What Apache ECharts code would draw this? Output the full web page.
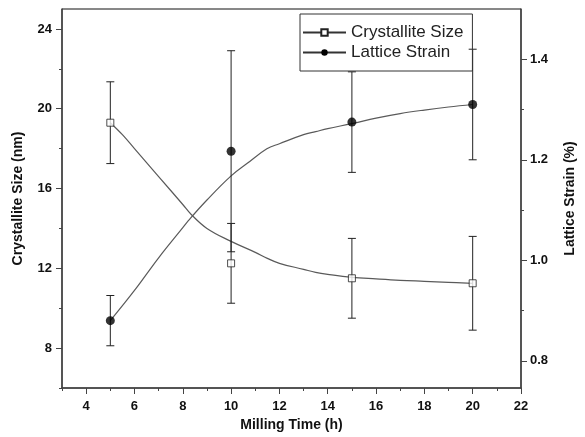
<!DOCTYPE html>
<html><head><meta charset="utf-8">
<script src="https://cdn.jsdelivr.net/npm/echarts@6/dist/echarts.min.js"></script>
<style>html,body{margin:0;padding:0;background:#fff}#c{width:585px;height:437px}</style>
</head><body><div id="c"></div>
<script>
// measured points
const millingTime = [5, 10, 15, 20];
const crystalliteSize = [19.3, 12.25, 11.5, 11.25];
const crystalliteErr = [2.05, 2.0, 2.0, 2.35];
const latticeStrain = [0.88, 1.217, 1.275, 1.31];
const strainErr = [0.05, 0.2, 0.1, 0.11];
// fitted curves
const cryCurveX = [5, 5.5, 6, 7, 8, 8.35, 9, 10, 11, 11.5, 12, 13, 13.5, 14, 15, 16, 17, 18, 19, 20];
const cryCurveY = [19.3, 18.7, 18.0, 16.6, 15.2, 14.7, 14.0, 13.35, 12.8, 12.5, 12.25, 11.95, 11.8, 11.7, 11.55, 11.47, 11.4, 11.35, 11.3, 11.25];
const strCurveX = [5, 6, 7, 8, 8.23, 9, 10, 10.67, 11.48, 12, 13, 13.5, 14, 15, 16, 17, 18, 19, 20];
const strCurveY = [0.88, 0.94, 1.005, 1.065, 1.079, 1.12, 1.168, 1.193, 1.222, 1.232, 1.25, 1.256, 1.262, 1.272, 1.283, 1.292, 1.299, 1.305, 1.31];
// axis ticks
const xLabels = [4, 6, 8, 10, 12, 14, 16, 18, 20, 22];
const xMinor = [3, 5, 7, 9, 11, 13, 15, 17, 19, 21];
const leftLabels = [8, 12, 16, 20, 24];
const leftMinor = [6, 10, 14, 18, 22];
const rightLabels = [0.8, 1.0, 1.2, 1.4];
const rightMinor = [0.9, 1.1, 1.3];

const FONT = 'Liberation Sans';
const axisCol = '#444';
const curveCol = '#5a5a5a';

function pairs(xs, ys) { return xs.map((x, i) => [x, ys[i]]); }
function errData(xs, ys, es) { return xs.map((x, i) => [x, ys[i] - es[i], ys[i] + es[i]]); }

function errRender(params, api) {
  const x = api.value(0);
  const lo = api.coord([x, api.value(1)]);
  const hi = api.coord([x, api.value(2)]);
  const w = 4;
  const st = { stroke: '#222', lineWidth: 1 };
  return { type: 'group', children: [
    { type: 'line', shape: { x1: lo[0], y1: lo[1], x2: hi[0], y2: hi[1] }, style: st },
    { type: 'line', shape: { x1: hi[0] - w, y1: hi[1], x2: hi[0] + w, y2: hi[1] }, style: st },
    { type: 'line', shape: { x1: lo[0] - w, y1: lo[1], x2: lo[0] + w, y2: lo[1] }, style: st }
  ]};
}

const chart = echarts.init(document.getElementById('c'), null, { renderer: 'canvas' });
const baseLabel = { fontFamily: FONT, fontWeight: 'bold', fontSize: 13, color: '#111' };
chart.setOption({
  animation: false,
  backgroundColor: '#fff',
  grid: { left: 62, right: 56, top: 9, bottom: 49, show: true, borderColor: '#111', borderWidth: 1 },
  legend: {
    left: 300, top: 14, orient: 'vertical', itemGap: 3,
    padding: [10, 9, 10, 2],
    borderColor: '#333', borderWidth: 1,
    itemWidth: 43, itemHeight: 8,
    textStyle: { fontFamily: FONT, fontSize: 17, color: '#222' },
    data: ['Crystallite Size', 'Lattice Strain']
  },
  xAxis: [
    { type: 'value', min: 3, max: 22,
      name: 'Milling Time (h)', nameLocation: 'middle', nameGap: 30,
      nameTextStyle: { fontFamily: FONT, fontWeight: 'bold', fontSize: 14, color: '#111' },
      axisLine: { lineStyle: { color: axisCol, width: 1.5 } },
      axisTick: { customValues: xLabels, length: 6, lineStyle: { color: axisCol } },
      axisLabel: { customValues: xLabels, margin: 12, ...baseLabel },
      splitLine: { show: false } },
    { type: 'value', min: 3, max: 22, position: 'bottom',
      axisLine: { show: false },
      axisTick: { customValues: xMinor, length: 3, lineStyle: { color: axisCol } },
      axisLabel: { show: false }, splitLine: { show: false } }
  ],
  yAxis: [
    { type: 'value', min: 6, max: 25, position: 'left',
      name: 'Crystallite Size (nm)', nameLocation: 'middle', nameGap: 37, nameRotate: 90,
      nameTextStyle: { fontFamily: FONT, fontWeight: 'bold', fontSize: 14, color: '#111' },
      axisLine: { show: true, lineStyle: { color: axisCol, width: 1.5 } },
      axisTick: { show: true, customValues: leftLabels, length: 6, lineStyle: { color: axisCol } },
      axisLabel: { customValues: leftLabels, margin: 10, ...baseLabel },
      splitLine: { show: false } },
    { type: 'value', min: 0.746, max: 1.5, position: 'right',
      name: 'Lattice Strain (%)', nameLocation: 'middle', nameGap: 42, nameRotate: 90,
      nameTextStyle: { fontFamily: FONT, fontWeight: 'bold', fontSize: 14, color: '#111' },
      axisLine: { show: true, lineStyle: { color: axisCol, width: 1.5 } },
      axisTick: { show: true, customValues: rightLabels, length: 6, lineStyle: { color: axisCol } },
      axisLabel: { customValues: rightLabels, margin: 9, formatter: v => v.toFixed(1), ...baseLabel },
      splitLine: { show: false } },
    { type: 'value', min: 6, max: 25, position: 'left',
      axisLine: { show: false },
      axisTick: { show: true, customValues: leftMinor, length: 3, lineStyle: { color: axisCol } },
      axisLabel: { show: false }, splitLine: { show: false } },
    { type: 'value', min: 0.746, max: 1.5, position: 'right',
      axisLine: { show: false },
      axisTick: { show: true, customValues: rightMinor, length: 3, lineStyle: { color: axisCol } },
      axisLabel: { show: false }, splitLine: { show: false } }
  ],
  series: [
    { name: 'cryCurve', type: 'line', smooth: 0.4, yAxisIndex: 0, showSymbol: false, silent: true,
      data: pairs(cryCurveX, cryCurveY), lineStyle: { color: curveCol, width: 1.2 }, z: 2 },
    { name: 'strCurve', type: 'line', smooth: 0.4, yAxisIndex: 1, showSymbol: false, silent: true,
      data: pairs(strCurveX, strCurveY), lineStyle: { color: curveCol, width: 1.2 }, z: 2 },
    { name: 'cryErr', type: 'custom', yAxisIndex: 0, renderItem: errRender,
      data: errData(millingTime, crystalliteSize, crystalliteErr), z: 3 },
    { name: 'strErr', type: 'custom', yAxisIndex: 1, renderItem: errRender,
      data: errData(millingTime, latticeStrain, strainErr), z: 3 },
    { name: 'cryPts', type: 'scatter', yAxisIndex: 0, symbol: 'rect', symbolSize: 7,
      itemStyle: { color: '#fff', borderColor: '#222', borderWidth: 1 },
      data: pairs(millingTime, crystalliteSize), z: 5 },
    { name: 'strPts', type: 'scatter', yAxisIndex: 1, symbol: 'circle', symbolSize: 9,
      itemStyle: { color: '#000' }, data: pairs(millingTime, latticeStrain), z: 5 },
    { name: 'Crystallite Size', type: 'line', yAxisIndex: 0, data: [], symbol: 'rect', symbolSize: 7,
      itemStyle: { color: '#fff', borderColor: '#222', borderWidth: 1 }, lineStyle: { color: '#333', width: 1 } },
    { name: 'Lattice Strain', type: 'line', yAxisIndex: 1, data: [], symbol: 'circle', symbolSize: 9,
      itemStyle: { color: '#000' }, lineStyle: { color: '#333', width: 1 } }
  ]
});
</script></body></html>
